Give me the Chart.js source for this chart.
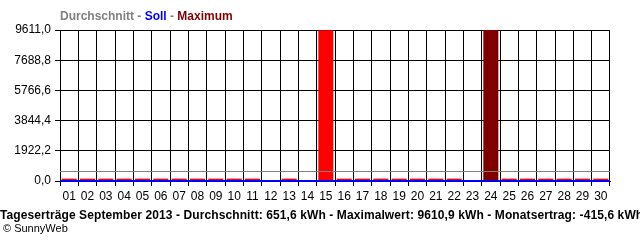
<!DOCTYPE html>
<html>
<head>
<meta charset="utf-8">
<script src="https://cdn.jsdelivr.net/npm/chart.js@4"></script>
<style>
    body { margin: 0; background: #fff; }
    #wrap { position: relative; width: 640px; height: 240px; overflow: hidden; }
    #legend { position: absolute; left: 60px; top: 9px; font: bold 12px "Liberation Sans", Arial, sans-serif; color: #808080; white-space: nowrap; }
    #footer { position: absolute; left: 0; top: 208px; font: bold 12px "Liberation Sans", Arial, sans-serif; letter-spacing: 0.1px; color: #000; white-space: nowrap; }
    #copy { position: absolute; left: 3px; top: 222px; font: 11px "Liberation Sans", Arial, sans-serif; color: #000; white-space: nowrap; }
</style>
</head>
<body>
<div id="wrap">
    <canvas id="chart" width="640" height="240"></canvas>
    <div id="legend">Durchschnitt - <span style="color:#0000ff">Soll</span> - <span style="color:#800000">Maximum</span></div>
    <div id="footer">Tageserträge September 2013 - Durchschnitt: 651,6 kWh - Maximalwert: 9610,9 kWh - Monatsertrag: -415,6 kWh</div>
    <div id="copy">© SunnyWeb</div>
</div>
<script>
// data
const days = ['01', '02', '03', '04', '05', '06', '07', '08', '09', '10',
    '11', '12', '13', '14', '15', '16', '17', '18', '19', '20',
    '21', '22', '23', '24', '25', '26', '27', '28', '29', '30'];
const dailyYield = [150, 150, 150, 150, 150, 150, 150, 150, 150, 150,
    150, 0, 150, 0, 9600, 150, 150, 150, 150, 150,
    150, 150, 0, 9610.9, 150, 150, 150, 150, 150, 150];
const yTicks = [0, 1922.2, 3844.4, 5766.6, 7688.8, 9611.0];
const average = 651.6;
const target = 0;
const maxValue = Math.max(...dailyYield);

const barColors = dailyYield.map(v => v === maxValue ? '#800000' : '#ff0000');

// horizontal lines for Durchschnitt and Soll
const refLines = {
    id: 'refLines',
    afterDatasetsDraw(chart) {
        const ctx = chart.ctx;
        const area = chart.chartArea;
        const y = chart.scales.y;
        ctx.save();
        ctx.lineWidth = 1;
        ctx.strokeStyle = '#808080';
        let py = Math.round(y.getPixelForValue(average)) + 0.5;
        ctx.beginPath();
        ctx.moveTo(area.left, py);
        ctx.lineTo(area.right, py);
        ctx.stroke();
        ctx.lineWidth = 2;
        ctx.strokeStyle = '#0000ff';
        py = Math.round(y.getPixelForValue(target));
        ctx.beginPath();
        ctx.moveTo(area.left, py);
        ctx.lineTo(area.right, py);
        ctx.stroke();
        ctx.restore();
    }
};

const config = {
    type: 'bar',
    data: {
        labels: days,
        datasets: [{
            data: dailyYield,
            backgroundColor: barColors,
            borderWidth: 0,
            barPercentage: 0.82,
            categoryPercentage: 1
        }]
    },
    options: {
        responsive: false,
        animation: false,
        events: [],
        layout: { padding: { top: 30, right: 30, left: 0, bottom: 0 } },
        plugins: {
            legend: { display: false },
            tooltip: { enabled: false }
        },
        scales: {
            x: {
                offset: true,
                grid: { offset: true, color: '#000', lineWidth: 1, tickLength: 5 },
                border: { color: '#000' },
                ticks: { color: '#000', padding: 3, maxRotation: 0, autoSkip: false,
                    font: { family: '"Liberation Sans", Arial, sans-serif', size: 12 } },
                afterFit(scale) { scale.height = 59; }
            },
            y: {
                min: 0,
                max: 9611,
                grid: { color: '#000', lineWidth: 1, tickLength: 5 },
                border: { color: '#000' },
                afterBuildTicks(scale) { scale.ticks = yTicks.map(v => ({ value: v })); },
                ticks: {
                    color: '#000',
                    padding: 4,
                    font: { family: '"Liberation Sans", Arial, sans-serif', size: 12 },
                    callback: v => v.toFixed(1).replace('.', ',')
                },
                afterFit(scale) { scale.width = 60; }
            }
        }
    },
    plugins: [refLines]
};

const dailyChart = new Chart(document.getElementById('chart'), config);
</script>
</body>
</html>
